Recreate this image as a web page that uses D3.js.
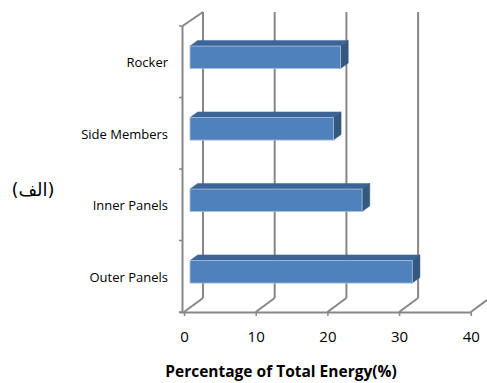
<!DOCTYPE html>
<html><head><meta charset="utf-8">
<script src="https://cdn.jsdelivr.net/npm/d3@7"></script>
<style>
html,body{margin:0;padding:0;background:#fff;}
svg{display:block;}
</style></head>
<body>
<svg id="chart" width="487" height="383"></svg>
<script>
// ---- data ----
const categories = ["Rocker", "Side Members", "Inner Panels", "Outer Panels"];
const values = [21, 20, 24, 31];
const xTicks = [0, 10, 20, 30, 40];
const xTitle = "Percentage of Total Energy(%)";
const sideLabel = "(الف)";

// ---- layout ----
const svg = d3.select("#chart");
const depthDX = 19, depthDY = -14;           // 3D depth offset (front -> back)
const x = d3.scaleLinear().domain([0, 40]).range([184, 470.8]);
const y = d3.scaleBand().domain(categories).range([26, 312]).padding(0);
const proj = (px, py, z) => [px + z * depthDX, py + z * depthDY];
const gridColor = "#878787";
const yBottom = y.range()[1], yTop = y.range()[0];

// back wall vertical gridlines + floor diagonals
const gBack = svg.append("g");
xTicks.forEach(t => {
  const [bx, by] = proj(x(t), yBottom, 1);
  const [tx, ty] = proj(x(t), yTop, 1);
  gBack.append("line").attr("x1", bx).attr("y1", by).attr("x2", tx).attr("y2", ty)
    .attr("stroke", gridColor).attr("stroke-width", 2);
  gBack.append("line").attr("x1", x(t)).attr("y1", yBottom).attr("x2", bx).attr("y2", by)
    .attr("stroke", gridColor).attr("stroke-width", 2);
});

// left side wall edges
const wallX = x(0) - 1.5;
svg.append("line").attr("x1", wallX).attr("y1", yTop).attr("x2", wallX).attr("y2", yBottom)
  .attr("stroke", gridColor).attr("stroke-width", 2);
{
  const [tx, ty] = proj(x(0), yTop, 1);
  svg.append("line").attr("x1", wallX).attr("y1", yTop).attr("x2", tx).attr("y2", ty)
    .attr("stroke", gridColor).attr("stroke-width", 2);
}
// category boundary ticks on left wall
const bounds = categories.map(c => y(c)).concat([yBottom]);
bounds.forEach(b => {
  svg.append("line").attr("x1", wallX - 3.5).attr("x2", wallX).attr("y1", b).attr("y2", b)
    .attr("stroke", gridColor).attr("stroke-width", 1.5);
});

// bottom axis (floor front edge)
const xAxis = d3.axisBottom(x).tickValues(xTicks).tickSize(4).tickPadding(15).tickFormat(d3.format("d"));
const gx = svg.append("g").attr("transform", `translate(0,${yBottom})`).call(xAxis);
gx.select(".domain").attr("d", `M${wallX - 3},0.5H${x(40)}`).attr("stroke", gridColor).attr("stroke-width", 2);
gx.selectAll(".tick line").attr("stroke", gridColor).attr("stroke-width", 1.5);
gx.selectAll(".tick text").attr("font-family", "Open Sans, sans-serif").attr("font-size", 15).attr("fill", "#000");

// left axis labels
const yAxis = d3.axisLeft(y).tickSize(0).tickPadding(0);
const gy = svg.append("g").attr("transform", `translate(168,1.5)`).call(yAxis);
gy.select(".domain").remove();
gy.selectAll(".tick text").attr("font-family", "Open Sans, sans-serif").attr("font-size", 13).attr("fill", "#000");

// 3D bars
const z0 = 0.316, z1 = 0.72;
const thick = y.step() * 0.315;
const gBars = svg.append("g");
categories.forEach((c, i) => {
  const v = values[i];
  const cy = y(c) + y.bandwidth() / 2;
  const yt = cy - thick / 2, yb = cy + thick / 2;
  const x0 = x(0), x1 = x(v);
  const F = (px, py) => proj(px, py, z0);
  const B = (px, py) => proj(px, py, z1);
  const poly = pts => "M" + pts.map(p => p.join(",")).join("L") + "Z";
  gBars.append("path").attr("d", poly([F(x0, yt), F(x1, yt), B(x1, yt), B(x0, yt)]))
    .attr("fill", "#3c6496").attr("stroke", "#3c6496").attr("stroke-width", 0.5);
  gBars.append("path").attr("d", poly([F(x1, yt), B(x1, yt), B(x1, yb), F(x1, yb)]))
    .attr("fill", "#35587f").attr("stroke", "#35587f").attr("stroke-width", 0.5);
  const [fx, fy] = F(x0, yt);
  const [fx2, fy2] = F(x1, yb);
  gBars.append("rect").attr("x", fx).attr("y", fy).attr("width", fx2 - fx).attr("height", fy2 - fy)
    .attr("fill", "#4f81bd").attr("stroke", "#a9c0df").attr("stroke-width", 0.8);
});

// axis title
svg.append("text").attr("x", 281).attr("y", 377).attr("text-anchor", "middle")
  .attr("font-family", "Open Sans, sans-serif").attr("font-weight", "bold").attr("font-size", 15.5)
  .attr("fill", "#000").text(xTitle);

// side label
svg.append("text").attr("x", 33).attr("y", 196).attr("text-anchor", "middle")
  .attr("font-family", "DejaVu Sans, sans-serif").attr("font-size", 18)
  .attr("fill", "#000").text(sideLabel);
</script>
</body></html>
